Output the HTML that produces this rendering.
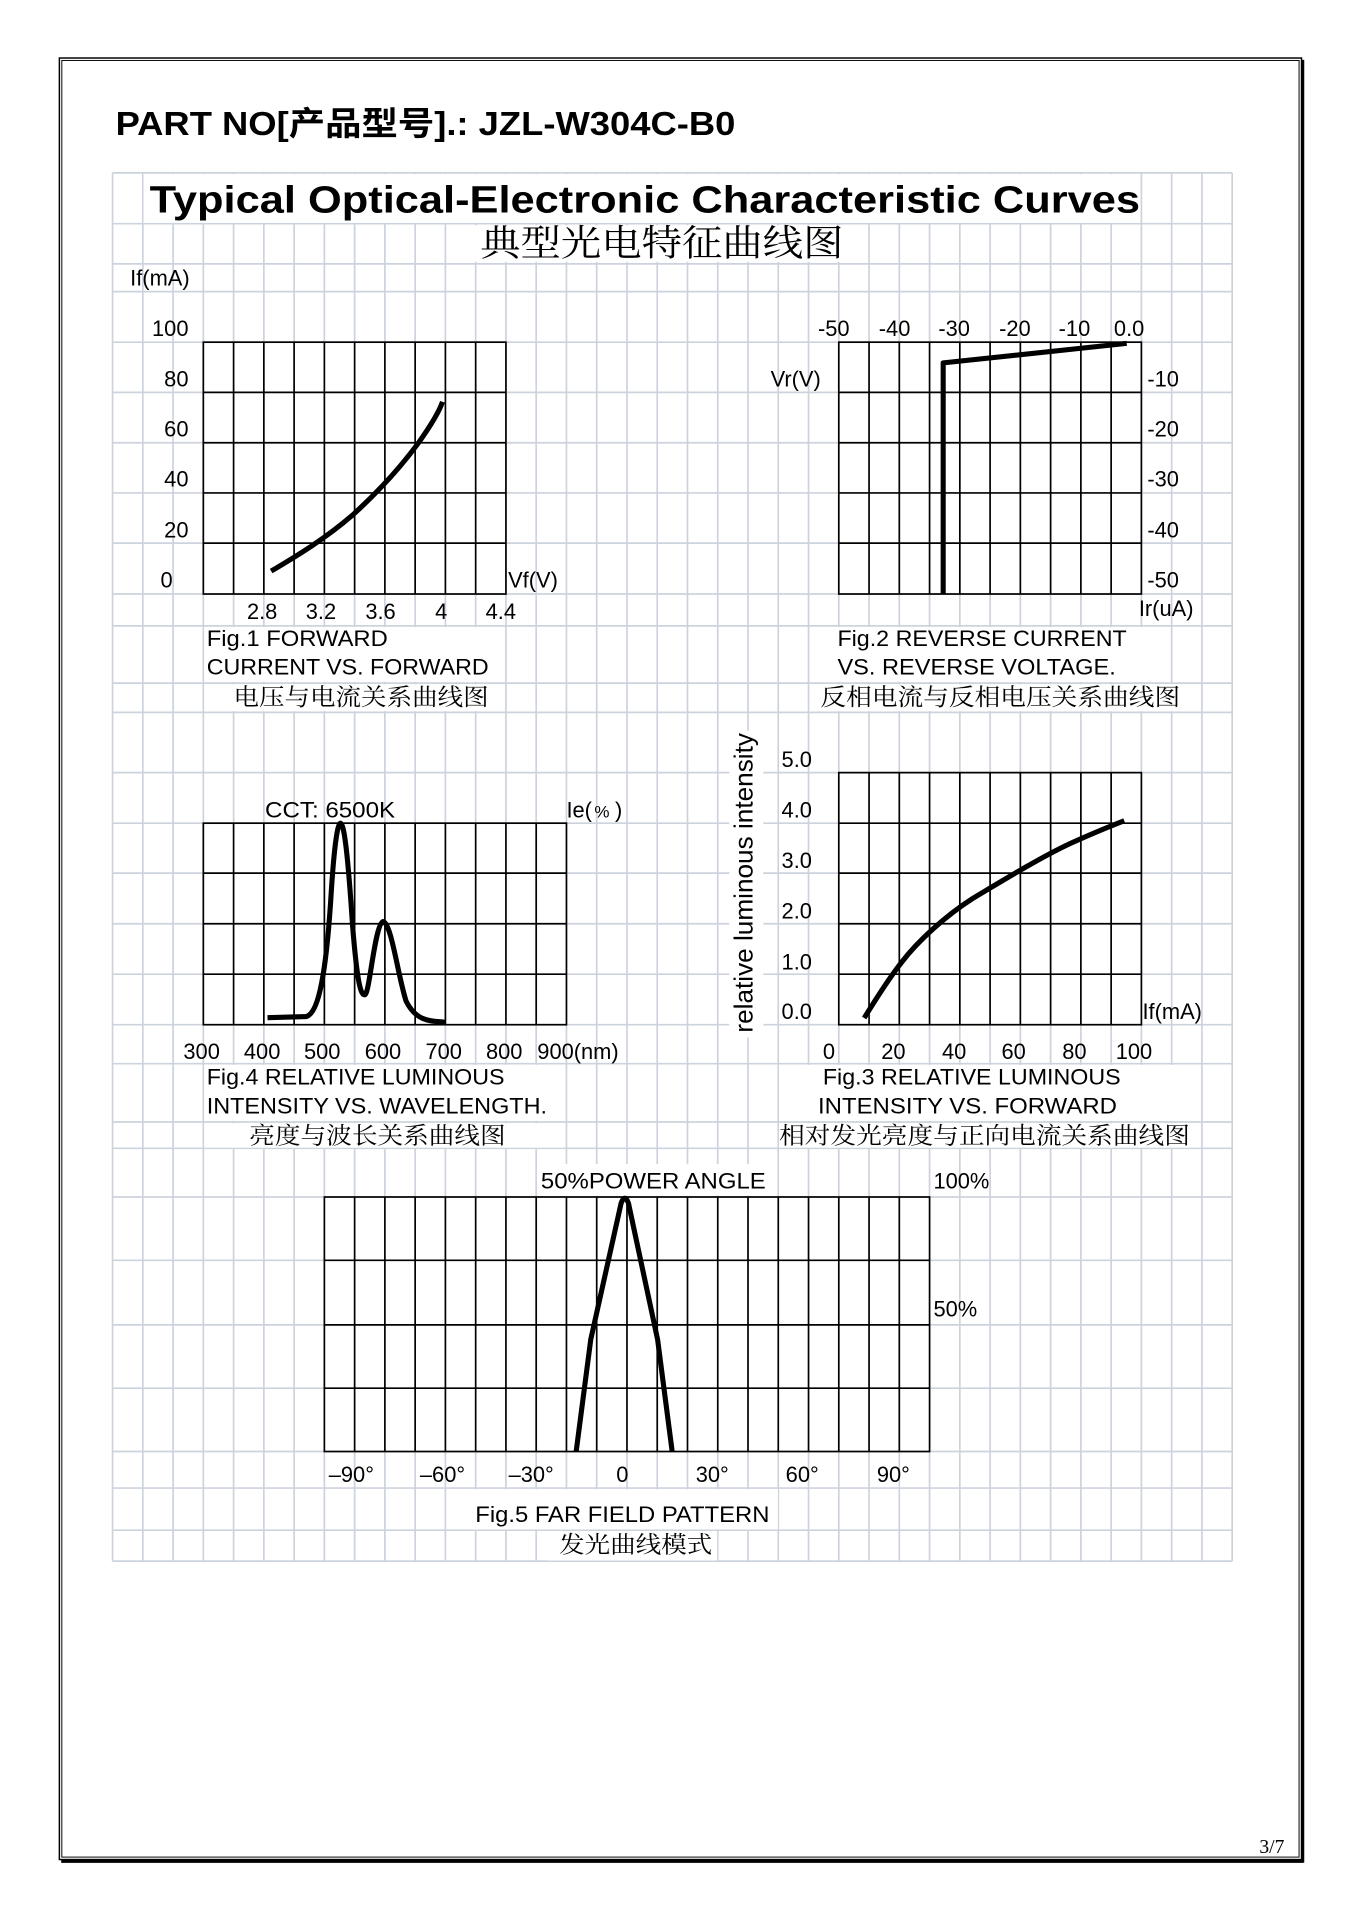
<!DOCTYPE html>
<html><head><meta charset="utf-8"><style>
html,body{margin:0;padding:0;background:#fff;}
svg{display:block;}
text{font-family:"Liberation Sans","Noto Sans CJK SC",sans-serif;fill:#000;}
.cn{font-family:"Liberation Serif","Noto Serif CJK SC",serif;}
</style></head><body>
<svg width="1356" height="1920" viewBox="0 0 1110 1572" xmlns="http://www.w3.org/2000/svg">
<rect width="1110" height="1572" fill="#fff"/>
<rect x="48.5" y="47.5" width="1017" height="1475" fill="none" stroke="#000" stroke-width="1.2"/>
<rect x="50.5" y="49.5" width="1013" height="1471" fill="none" stroke="#000" stroke-width="0.8"/>
<line x1="50" y1="1524" x2="1067" y2="1524" stroke="#000" stroke-width="2.5"/>
<line x1="1066.5" y1="49" x2="1066.5" y2="1525" stroke="#000" stroke-width="2.5"/>

<g transform="scale(0.995 0.997)">
<path fill="none" stroke="#cdd3dd" stroke-width="1.4" d="
M92.5 142V1282 M117.4 142V1282 M142.3 142V1282 M167.2 142V1282 M192.1 142V1282 M217 142V1282 M241.9 142V1282 M266.8 142V1282 M291.7 142V1282 M316.6 142V1282
M341.5 142V1282 M366.4 142V1282 M391.3 142V1282 M416.2 142V1282 M441.1 142V1282 M466 142V1282 M490.9 142V1282 M515.8 142V1282 M540.7 142V1282 M565.6 142V1282
M590.5 142V1282 M615.4 142V1282 M640.3 142V1282 M665.2 142V1282 M690.1 142V1282 M715 142V1282 M739.9 142V1282 M764.8 142V1282 M789.7 142V1282 M814.6 142V1282
M839.5 142V1282 M864.4 142V1282 M889.3 142V1282 M914.2 142V1282 M939.1 142V1282 M964 142V1282 M988.9 142V1282 M1013.8 142V1282
M92.5 142H1013.8 M92.5 183.7H1013.8 M92.5 216.7H1013.8 M92.5 239.5H1013.8 M92.5 281H1013.8 M92.5 322.2H1013.8 M92.5 363.6H1013.8 M92.5 404.8H1013.8
M92.5 446H1013.8 M92.5 487.8H1013.8 M92.5 514H1013.8 M92.5 561H1013.8 M92.5 585H1013.8 M92.5 634.5H1013.8 M92.5 676H1013.8 M92.5 717H1013.8
M92.5 758.6H1013.8 M92.5 800H1013.8 M92.5 841.5H1013.8 M92.5 873.5H1013.8 M92.5 921.4H1013.8 M92.5 943H1013.8 M92.5 983H1013.8 M92.5 1035H1013.8
M92.5 1088H1013.8 M92.5 1140H1013.8 M92.5 1192H1013.8 M92.5 1222H1013.8 M92.5 1256.6H1013.8 M92.5 1282H1013.8"/>

<g fill="#fff">
<rect x="118" y="143" width="820" height="40"/>
<rect x="390" y="185" width="310" height="30"/>
<rect x="168" y="515" width="247" height="45"/>
<rect x="168" y="562" width="247" height="22"/>
<rect x="666" y="515" width="297" height="45"/>
<rect x="666" y="562" width="322" height="22"/>
<rect x="168" y="874.5" width="297" height="46"/>
<rect x="168" y="922.5" width="297" height="20"/>
<rect x="641" y="874.5" width="347" height="46"/>
<rect x="641" y="922.5" width="347" height="20"/>
<rect x="386" y="1223" width="254" height="33"/>
<rect x="450" y="1257.5" width="140" height="24"/>
<rect x="600" y="600" width="28" height="252"/>
<rect x="442" y="956" width="196" height="26"/>
</g>

<g stroke="#000" stroke-width="1.4" fill="#fff">
<rect x="167.2" y="281" width="249" height="206.8"/>
<rect x="690.1" y="281" width="249" height="206.8"/>
<rect x="167.2" y="676" width="298.8" height="165.5"/>
<rect x="690.1" y="634.5" width="249" height="207"/>
<rect x="266.8" y="983" width="498" height="209"/>
<path fill="none" d="
M192.1 281V487.8 M217 281V487.8 M241.9 281V487.8 M266.8 281V487.8 M291.7 281V487.8 M316.6 281V487.8 M341.5 281V487.8 M366.4 281V487.8 M391.3 281V487.8
M167.2 322.2H416.2 M167.2 363.6H416.2 M167.2 404.8H416.2 M167.2 446H416.2
M715 281V487.8 M739.9 281V487.8 M764.8 281V487.8 M789.7 281V487.8 M814.6 281V487.8 M839.5 281V487.8 M864.4 281V487.8 M889.3 281V487.8 M914.2 281V487.8
M690.1 322.2H939.1 M690.1 363.6H939.1 M690.1 404.8H939.1 M690.1 446H939.1
M192.1 676V841.5 M217 676V841.5 M241.9 676V841.5 M266.8 676V841.5 M291.7 676V841.5 M316.6 676V841.5 M341.5 676V841.5 M366.4 676V841.5 M391.3 676V841.5 M416.2 676V841.5 M441.1 676V841.5
M167.2 717H466 M167.2 758.6H466 M167.2 800H466
M715 634.5V841.5 M739.9 634.5V841.5 M764.8 634.5V841.5 M789.7 634.5V841.5 M814.6 634.5V841.5 M839.5 634.5V841.5 M864.4 634.5V841.5 M889.3 634.5V841.5 M914.2 634.5V841.5
M690.1 676H939.1 M690.1 717H939.1 M690.1 758.6H939.1 M690.1 800H939.1
M291.7 983V1192 M316.6 983V1192 M341.5 983V1192 M366.4 983V1192 M391.3 983V1192 M416.2 983V1192 M441.1 983V1192 M466 983V1192 M490.9 983V1192 M515.8 983V1192
M540.7 983V1192 M565.6 983V1192 M590.5 983V1192 M615.4 983V1192 M640.3 983V1192 M665.2 983V1192 M690.1 983V1192 M715 983V1192 M739.9 983V1192
M266.8 1035H764.8 M266.8 1088H764.8 M266.8 1140H764.8"/>
</g>

<g fill="none" stroke="#000" stroke-width="4.2" stroke-linejoin="round">
<path d="M223,469 C245,456 268,442 290,423 C312,403 330,383 344,364 C354,350 361,339 364,330"/>
<path d="M776,488 L776,298 L927,282"/>
<path d="M220,835.7 L252,834.8 C262,832 268,800 272,740 C275,690 278,676 280,676 C283,676 286,700 290,760 C294,810 297,817 300,817 C304,817 308,760 315,756.8 C322,758 327,800 334,822 C342,838 352,838.5 366,839.4"/>
<path d="M711,836 C724,815 734,800 742,790 C755,773 778,752 800,738 C830,720 860,702 882,692 C900,684 912,679 925,674"/>
<path d="M474,1192 L486,1100 L511,988 Q514,980 517,988 L541,1100 L553,1192"/>
</g>

<text x="95" y="111" font-size="27" font-weight="bold" textLength="510" lengthAdjust="spacingAndGlyphs">PART NO[产品型号].: JZL-W304C-B0</text>
<text x="123" y="174.5" font-size="31" font-weight="bold" textLength="815" lengthAdjust="spacingAndGlyphs">Typical Optical-Electronic Characteristic Curves</text>
<text class="cn" x="395" y="210" font-size="30" textLength="299" lengthAdjust="spacingAndGlyphs">典型光电特征曲线图</text>

<g font-size="18">
<text x="107" y="234.5">If(mA)</text>
<g text-anchor="end">
<text x="155" y="276">100</text><text x="155" y="317.5">80</text><text x="155" y="358.5">60</text>
<text x="155" y="399.5">40</text><text x="155" y="441.5">20</text><text x="142" y="482.5">0</text>
</g>
<text x="418" y="482.5">Vf(V)</text>
<g text-anchor="middle">
<text x="215.6" y="508.5">2.8</text><text x="264" y="508.5">3.2</text><text x="313" y="508.5">3.6</text>
<text x="363" y="508.5">4</text><text x="412" y="508.5">4.4</text>
</g>
<text x="170" y="530.5" textLength="149" lengthAdjust="spacingAndGlyphs">Fig.1 FORWARD</text>
<text x="170" y="554" textLength="232" lengthAdjust="spacingAndGlyphs">CURRENT VS. FORWARD</text>
<text class="cn" x="192" y="579" font-size="19" textLength="210" lengthAdjust="spacingAndGlyphs">电压与电流关系曲线图</text>

<g text-anchor="middle">
<text x="686" y="276">-50</text><text x="736" y="276">-40</text><text x="785" y="276">-30</text>
<text x="835" y="276">-20</text><text x="884" y="276">-10</text><text x="929" y="276">0.0</text>
</g>
<text x="634" y="317.5">Vr(V)</text>
<text x="944" y="317.5">-10</text><text x="944" y="358.5">-20</text><text x="944" y="399.5">-30</text>
<text x="944" y="441.5">-40</text><text x="944" y="482.5">-50</text>
<text x="937" y="506">Ir(uA)</text>
<text x="689" y="530.5" textLength="238" lengthAdjust="spacingAndGlyphs">Fig.2 REVERSE CURRENT</text>
<text x="689" y="554" textLength="229" lengthAdjust="spacingAndGlyphs">VS. REVERSE VOLTAGE.</text>
<text class="cn" x="675" y="579" font-size="19" textLength="296" lengthAdjust="spacingAndGlyphs">反相电流与反相电压关系曲线图</text>

<text x="218" y="671.5" textLength="107" lengthAdjust="spacingAndGlyphs">CCT: 6500K</text>
<text x="466" y="671.5">Ie(</text><text x="489" y="671.5" font-size="14">%</text><text x="506" y="671.5">)</text>
<g text-anchor="middle">
<text x="165.8" y="869.5">300</text><text x="215.6" y="869.5">400</text><text x="265" y="869.5">500</text>
<text x="315" y="869.5">600</text><text x="365" y="869.5">700</text><text x="414.8" y="869.5">800</text>
</g>
<text x="442" y="869.5">900(nm)</text>
<text x="170" y="890.5" textLength="245" lengthAdjust="spacingAndGlyphs">Fig.4 RELATIVE LUMINOUS</text>
<text x="170" y="914.5" textLength="280" lengthAdjust="spacingAndGlyphs">INTENSITY VS. WAVELENGTH.</text>
<text class="cn" x="205" y="939" font-size="19" textLength="211" lengthAdjust="spacingAndGlyphs">亮度与波长关系曲线图</text>

<text transform="translate(619,848) rotate(-90)" font-size="21" textLength="246" lengthAdjust="spacingAndGlyphs">relative luminous intensity</text>
<text x="643" y="630">5.0</text><text x="643" y="671.5">4.0</text><text x="643" y="713">3.0</text>
<text x="643" y="754.5">2.0</text><text x="643" y="796">1.0</text><text x="643" y="837">0.0</text>
<text x="940" y="837">If(mA)</text>
<g text-anchor="middle">
<text x="682" y="869.5">0</text><text x="735" y="869.5">20</text><text x="785" y="869.5">40</text>
<text x="834" y="869.5">60</text><text x="884" y="869.5">80</text><text x="933" y="869.5">100</text>
</g>
<text x="677" y="890.5" textLength="245" lengthAdjust="spacingAndGlyphs">Fig.3 RELATIVE LUMINOUS</text>
<text x="673" y="914.5" textLength="246" lengthAdjust="spacingAndGlyphs">INTENSITY  VS. FORWARD</text>
<text class="cn" x="641" y="939" font-size="19" textLength="338" lengthAdjust="spacingAndGlyphs">相对发光亮度与正向电流关系曲线图</text>

<text x="445" y="976" textLength="185" lengthAdjust="spacingAndGlyphs">50%POWER ANGLE</text>
<text x="768" y="976">100%</text>
<text x="768" y="1081">50%</text>
<g text-anchor="middle">
<text x="289" y="1217">–90°</text><text x="364" y="1217">–60°</text><text x="437" y="1217">–30°</text>
<text x="512" y="1217">0</text><text x="586" y="1217">30°</text><text x="660" y="1217">60°</text><text x="735" y="1217">90°</text>
</g>
<text x="391" y="1250" textLength="242" lengthAdjust="spacingAndGlyphs">Fig.5 FAR FIELD PATTERN</text>
<text class="cn" x="460" y="1275" font-size="19" textLength="126" lengthAdjust="spacingAndGlyphs">发光曲线模式</text>
</g>
</g>
<text class="cn" x="1031" y="1517" font-size="16">3/7</text>
</svg>
</body></html>
